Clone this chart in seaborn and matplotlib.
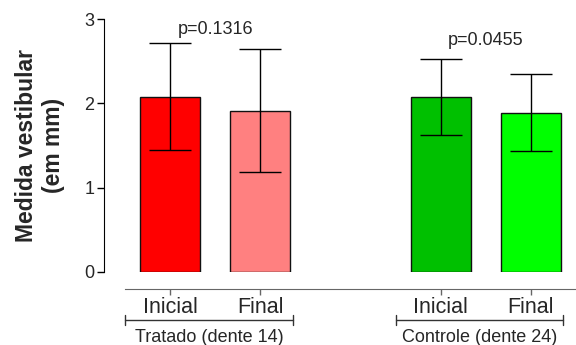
import numpy as np
import matplotlib
matplotlib.use('Agg')
import matplotlib.pyplot as plt
import matplotlib.transforms as mtransforms
import seaborn as sns
import pandas as pd

sns.set_style('ticks')
plt.rcParams['font.family'] = ['Liberation Sans', 'DejaVu Sans']

# data
groups = ['Tratado (dente 14)', 'Controle (dente 24)']
times = ['Inicial', 'Final']
means = [2.08, 1.91, 2.08, 1.89]
sds = [0.63, 0.73, 0.45, 0.46]
colors = ['#ff0000', '#ff8080', '#00c000', '#00ff00']
p_labels = ['p=0.1316', 'p=0.0455']
p_heights = [2.88, 2.75]

# one spacer slot between the two groups
cats = ['T_Inicial', 'T_Final', 'gap', 'C_Inicial', 'C_Final']
df = pd.DataFrame({'cat': [c for c in cats if c != 'gap'], 'mean': means, 'sd': sds})
pos = [cats.index(c) for c in df['cat']]

fig = plt.figure(figsize=(5.76, 3.45), dpi=100)
ax = fig.add_axes([125/576, 1 - 272/345, 1 - 125/576, (272 - 19)/345])

sns.barplot(data=df, x='cat', y='mean', order=cats, hue='cat', hue_order=cats,
            palette=dict(zip(df['cat'], colors)) | {'gap': 'white'}, saturation=1,
            width=0.667, edgecolor='#111111', linewidth=1, legend=False, ax=ax)
ax.errorbar(pos, df['mean'], yerr=df['sd'], fmt='none', ecolor='black',
            elinewidth=1, capsize=15, capthick=1)

ax.set_xlim(-0.5, 4.5)
ax.set_ylim(0, 3)
ax.set_yticks([0, 1, 2, 3])
ax.set_xticks(pos)
ax.set_xticklabels(times * 2)
ax.tick_params(axis='y', labelsize=13, length=5, width=1, color='black', pad=2)
ax.tick_params(axis='x', labelsize=15.5, length=4, width=1, color='#666666', pad=2)
ax.set_xlabel('')
ax.set_ylabel('Medida vestibular\n(em mm)', fontsize=16.5, fontweight='bold', labelpad=14)

sns.despine(ax=ax)
ax.spines['left'].set_position(('outward', 15))
ax.spines['left'].set_bounds(0, 3)
ax.spines['left'].set_color('black')
ax.spines['bottom'].set_position(('outward', 12))
ax.spines['bottom'].set_color('#666666')

# group brackets and labels below the tick labels
trans = mtransforms.blended_transform_factory(ax.transData, ax.transAxes)
yb = -(320 - 272) / 253
for i, g in enumerate(groups):
    left = pos[2*i] - 0.5
    right = pos[2*i + 1] + 0.36
    ax.plot([left, right], [yb, yb], color='#333333', lw=1, transform=trans, clip_on=False)
    for xe in (left, right):
        ax.plot([xe, xe], [yb - 0.018, yb + 0.018], color='#333333', lw=1,
                transform=trans, clip_on=False)
    ax.text((left + right) / 2, yb - 0.035, g, ha='center', va='top', fontsize=13,
            transform=trans, clip_on=False)
    ax.text((pos[2*i] + pos[2*i + 1]) / 2, p_heights[i], p_labels[i], ha='center',
            va='center', fontsize=13)

fig.savefig('out.png', dpi=100)
